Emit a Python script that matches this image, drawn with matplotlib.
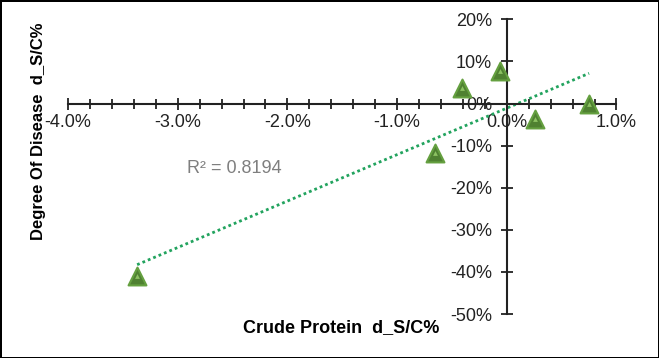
import matplotlib
matplotlib.use("Agg")
import matplotlib.pyplot as plt
import numpy as np
from matplotlib.ticker import MultipleLocator, FuncFormatter

plt.rcParams['font.family'] = ['Liberation Sans', 'DejaVu Sans']

# crude protein change (%) vs degree of disease change (%)
protein = [-3.37, -0.65, -0.41, -0.06, 0.26, 0.75]
disease = [-41.0, -11.7, 3.8, 7.7, -3.6, -0.2]
r2_label = "R² = 0.8194"

fig = plt.figure(figsize=(6.59, 3.58), dpi=100)
fig.patch.set_edgecolor('black')
fig.patch.set_linewidth(2)
ax = fig.add_axes([0.1032, 0.1229, 0.8323, 0.8231])

ax.scatter(protein, disease, marker='^', s=165, color='#4f8131',
           edgecolors='#65a040', linewidths=1.5, zorder=3)
ax.scatter(protein, disease, marker='^', s=12, color='#8cc262', zorder=4,
           linewidths=0)

# linear trendline
k, b = np.polyfit(protein, disease, 1)
xs = np.array([min(protein), max(protein)])
ax.plot(xs, k * xs + b, color='#22a35e', linestyle=(0, (1, 1.1)), linewidth=2.0,
        zorder=2)

ax.text(-2.48, -15.4, r2_label, color='#7f7f7f', fontsize=13, ha='center',
        va='center')

ax.set_xlim(-4, 1)
ax.set_ylim(-50, 20)
for side in ['top', 'right']:
    ax.spines[side].set_visible(False)
ax.spines['left'].set_position(('data', 0))
ax.spines['bottom'].set_position(('data', 0))
for side in ['left', 'bottom']:
    ax.spines[side].set_linewidth(1.5)
    ax.spines[side].set_color('#222222')

ax.xaxis.set_major_locator(MultipleLocator(1))
ax.xaxis.set_minor_locator(MultipleLocator(0.2))
ax.yaxis.set_major_locator(MultipleLocator(10))
ax.xaxis.set_major_formatter(FuncFormatter(lambda v, p: f"{v:.1f}%"))
ax.yaxis.set_major_formatter(FuncFormatter(lambda v, p: f"{v:.0f}%"))
ax.tick_params(axis='both', which='both', direction='inout', color='#222222',
               width=1.3, labelsize=13, labelcolor='#222222')
ax.tick_params(axis='x', which='major', length=9, pad=3)
ax.tick_params(axis='x', which='minor', length=7)
ax.tick_params(axis='y', which='major', length=9, pad=6)
ax.set_facecolor('none')

fig.text(0.518, 0.085, "Crude Protein  d_S/C%", fontsize=13, fontweight='bold',
         ha='center', va='center')
fig.text(0.058, 0.634, "Degree Of Disease  d_S/C%", fontsize=12,
         fontweight='bold', rotation=90, ha='center', va='center')

fig.savefig("out.png", dpi=100, edgecolor=fig.get_edgecolor())
